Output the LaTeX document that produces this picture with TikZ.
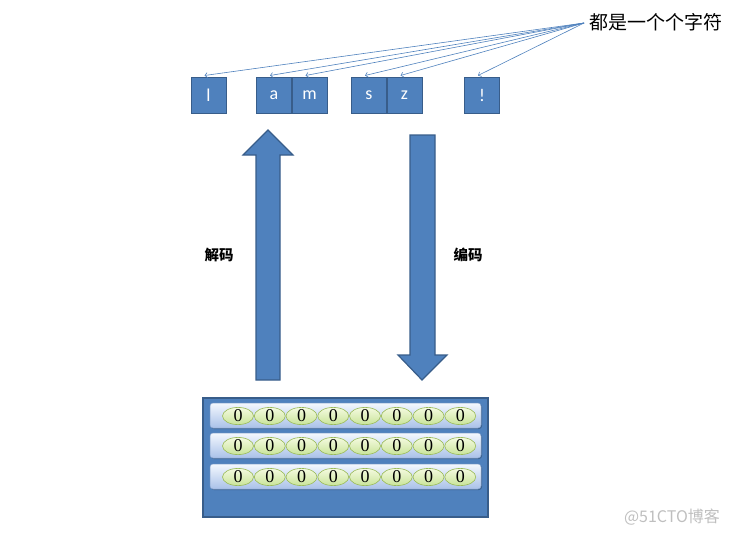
\documentclass[tikz,border=0pt]{standalone}
\usepackage{fontspec}
\setmainfont{Carlito}
\newfontfamily\cjk{Noto Sans CJK SC}
\newfontfamily\digitfont{Liberation Serif}
\usetikzlibrary{arrows.meta,shapes.geometric}
\definecolor{accblue}{HTML}{4F81BD}
\definecolor{accdark}{HTML}{385D8A}
\definecolor{rowtop}{HTML}{F4F8FE}
\definecolor{rowbot}{HTML}{A9C1E8}
\definecolor{bitedge}{HTML}{9BBB59}
\definecolor{bittop}{HTML}{F4FADF}
\definecolor{bitbot}{HTML}{C9E49A}
\tikzset{
  charbox/.style={draw=accdark, line width=1pt, fill=accblue, minimum width=35pt, minimum height=36pt, inner sep=0pt, text=white, font=\fontsize{18}{18}\selectfont},
  lk/.style={draw=accblue, line width=0.6pt, -{Straight Barb[length=2.5pt,width=5pt]}},
  blockarrow/.style={draw=accdark, line width=1.2pt, fill=accblue},
  rowbox/.style={draw=rowbot!70!accdark, line width=0.5pt, rounded corners=3pt, top color=rowtop, bottom color=rowbot, minimum width=271pt, minimum height=25pt, inner sep=0pt},
  bit/.style={ellipse, draw=bitedge, line width=0.6pt, top color=bittop, bottom color=bitbot, minimum width=31pt, minimum height=17pt, inner sep=0pt, font=\digitfont\fontsize{18}{18}\selectfont},
  cnlabel/.style={font=\cjk\bfseries\fontsize{14.5}{14.5}\selectfont},
}
\begin{document}
\begin{tikzpicture}[x=1pt,y=-1pt]
\useasboundingbox (0,0) rectangle (731,536);
% character boxes
\node[charbox] (l) at (208.5,95) {l};
\node[charbox] (a) at (274,95) {a};
\node[charbox] (m) at (309.5,95) {m};
\node[charbox] (s) at (369,95) {s};
\node[charbox] (z) at (404.5,95) {z};
\node[charbox] (ex) at (482,95) {!};
% label
\node[anchor=west, inner sep=0pt, font=\cjk\fontsize{19}{19}\selectfont] (lab) at (589,22) {都是一个个字符};
\coordinate (src) at (584,23);
\foreach \n in {l,a,m,s,z,ex}{
  \draw[lk] (src) -- ([xshift=-4pt,yshift=1pt]\n.north);
}
% block arrows
\draw[blockarrow] (256,380) -- (256,155) -- (243,155) -- (268,130) -- (293,155) -- (280,155) -- (280,380) -- cycle;
\draw[blockarrow] (410,135) -- (435,135) -- (435,355) -- (447,355) -- (422,380) -- (398,355) -- (410,355) -- cycle;
\node[cnlabel] (dec) at (219,255) {解码};
\node[cnlabel] (enc) at (468,255) {编码};
% memory block
\node[draw=accdark, line width=1.2pt, fill=accblue, minimum width=285pt, minimum height=119pt, inner sep=0pt] (mem) at (345.5,457.5) {};
\foreach \r/\y in {1/415.5,2/445.5,3/476.5}{
  \fill[accdark!80!black, opacity=0.6, rounded corners=3pt] (211,\y-11.5) rectangle (482,\y+13.5);
  \node[rowbox] (row\r) at (345.5,\y) {};
  \foreach \i in {0,...,7}{
    \node[bit] (b\r\i) at (238+31.75*\i,\y+0.5) {0};
  }
}
% watermark
\node[font=\cjk\fontsize{16}{16}\selectfont, text=black!25, inner sep=0pt] (wm) at (672,517) {@51CTO博客};
\end{tikzpicture}
\end{document}
